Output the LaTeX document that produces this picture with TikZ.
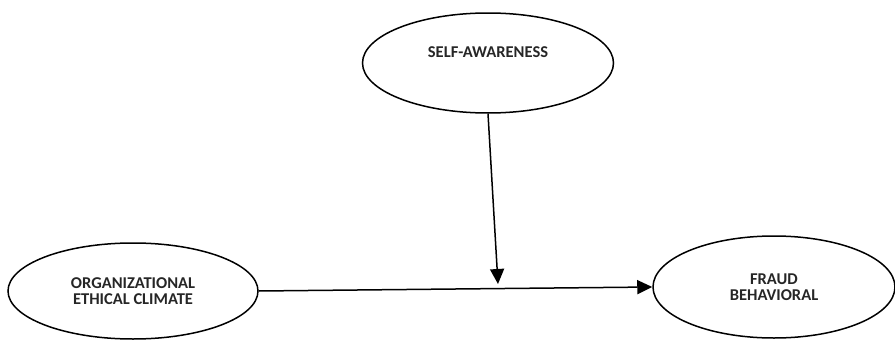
\documentclass[tikz,border=0pt]{standalone}
\usepackage{fontspec}
\setmainfont{Carlito}
\usetikzlibrary{shapes.geometric,arrows.meta}
\begin{document}
\begin{tikzpicture}[x=1pt,y=-1pt,
  oval/.style={ellipse,draw=black,line width=1.5pt,inner sep=0pt,
    font=\fontsize{16.5}{15.5}\selectfont\bfseries,text=black!85,align=center},
  link/.style={line width=1.5pt,-{Triangle[length=15pt,width=14pt]}}]
\useasboundingbox (0,0) rectangle (895,340);
\node[oval,minimum width=251pt,minimum height=100pt,text height=10pt,text depth=21pt] (sa) at (488,63) {SELF-AWARENESS};
\node[oval,minimum width=250pt,minimum height=96pt] (oec) at (133,291) {ORGANIZATIONAL\\ETHICAL CLIMATE};
\node[oval,minimum width=242pt,minimum height=102pt] (fb) at (774,287) {FRAUD\\BEHAVIORAL};
\coordinate (mid) at (498,284);
\draw[link] (sa.south) -- (mid);
\draw[link] (oec.east) -- (fb.west);
\end{tikzpicture}
\end{document}
